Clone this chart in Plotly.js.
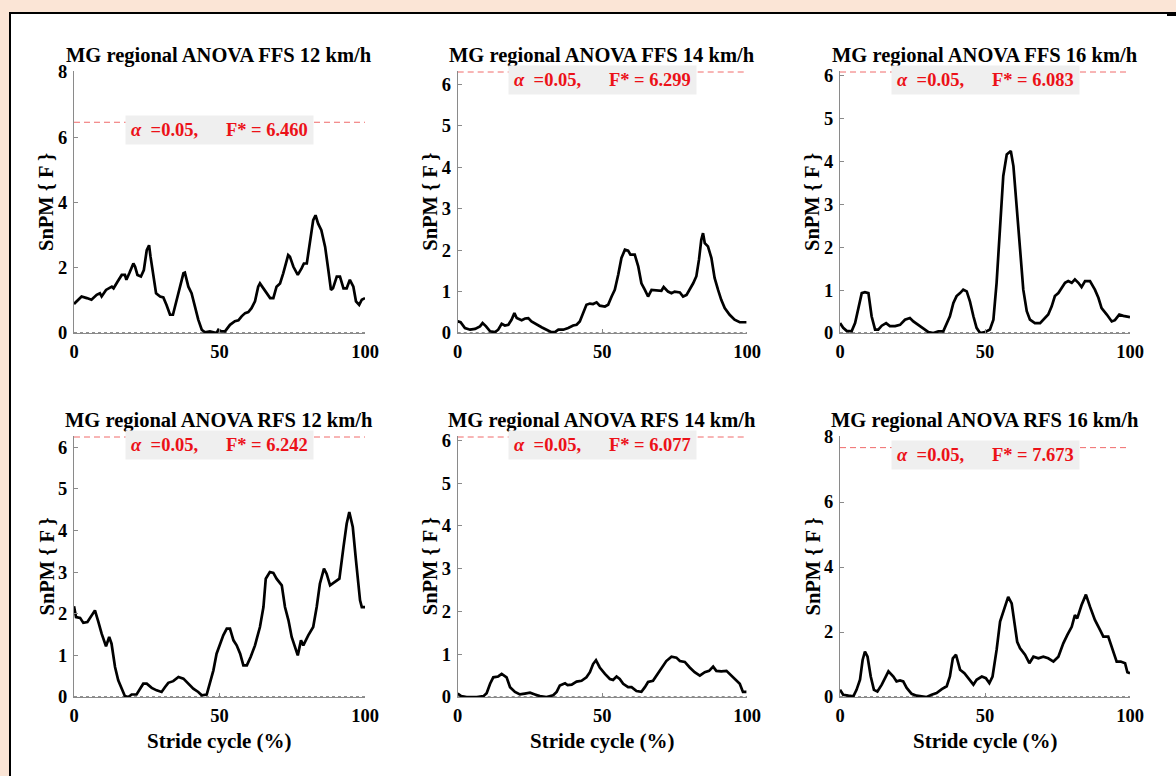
<!DOCTYPE html>
<html><head><meta charset="utf-8">
<script src="https://cdn.plot.ly/plotly-3.0.1.min.js"></script>
<style>html,body{margin:0;padding:0;background:#fbe5d6;}#chart{width:1176px;height:776px;}</style>
</head><body><div id="chart"></div>
<script>
// ---------------- data ----------------
const panelTitles = [
  'MG regional ANOVA FFS 12 km/h', 'MG regional ANOVA FFS 14 km/h', 'MG regional ANOVA FFS 16 km/h',
  'MG regional ANOVA RFS 12 km/h', 'MG regional ANOVA RFS 14 km/h', 'MG regional ANOVA RFS 16 km/h'
];
const yAxisTitle = 'SnPM { F }';
const xAxisTitle = 'Stride cycle (%)';
const alphaLevel = '0.05';
const fStar = [6.460, 6.299, 6.083, 6.242, 6.077, 7.673];
const yMax = [8, 6.299, 6.083, 6.242, 6.077, 8];
const yTickStep = [2, 1, 1, 1, 1, 2];
const strideRange = [0, 100];
const xTickVals = [0, 50, 100];

const ffs12X = [0,0.9,2.6,4.4,6,7.8,8.9,9.5,11,13,13.6,15,16.4,17.5,18,19,20.4,21,21.8,23,24,25,25.8,26.3,27.3,28.2,29.6,30.7,31.8,33,34,35.3,36.4,37.6,38.1,39.3,40.4,41.6,42.7,43.9,45,46.7,47.9,49,49.6,50.7,51.9,53.6,55.3,56.5,57.6,58.8,59.9,61,62.2,63.3,63.9,65,66.2,67.4,68.5,69.6,70.8,71.9,73.6,74.2,75.4,76.9,78.2,79,80,81,82.2,83,83.9,85,86.3,87.4,88.3,89,90.3,91.4,92.6,93.7,94.8,96,96.9,98,98.9,100];
const ffs12Y = [0.89,0.97,1.12,1.07,1.02,1.17,1.22,1.12,1.32,1.42,1.37,1.58,1.78,1.78,1.63,1.83,2.13,2.03,1.78,1.73,1.93,2.54,2.69,2.34,1.73,1.22,1.12,1.09,0.86,0.56,0.56,1.02,1.42,1.83,1.85,1.42,1.22,0.81,0.41,0.10,0.02,0.05,0.02,0,0.10,0.05,0.05,0.25,0.36,0.39,0.51,0.61,0.64,0.76,0.97,1.42,1.52,1.37,1.22,1.07,1.07,1.42,1.52,1.83,2.39,2.34,2.03,1.78,1.98,2.13,2.13,2.74,3.46,3.61,3.35,3.15,2.64,1.93,1.32,1.37,1.73,1.73,1.37,1.37,1.63,1.42,0.97,0.86,1.02,1.07];

const ffs14X = [0,1,2.5,4.3,6,7.7,8.6,9.8,11.2,12.9,14,15.2,16.3,17.5,18.6,19.6,20.4,22.1,23.3,24.4,25.5,27.3,29,30.7,32.4,33.6,34.8,36.5,38.2,39.9,41.1,42.2,43.4,44.5,45.7,46.8,48,49.1,50.9,52,53.2,54.3,55.5,56.6,57.8,58.9,59.7,61.2,62.4,63.5,64.7,65.8,67,68.7,70.4,71.2,72.7,73.9,75,76.8,77.9,79.1,80.2,81.4,82.5,83.4,84.2,84.8,85.4,86.5,87.7,88.8,90,91.1,92.3,94,95.7,97.5,99.8];
const ffs14Y = [0.28,0.26,0.12,0.08,0.10,0.16,0.24,0.16,0.04,0.02,0.08,0.22,0.18,0.20,0.32,0.48,0.36,0.31,0.35,0.36,0.28,0.20,0.14,0.08,0.02,0.02,0.08,0.08,0.12,0.18,0.20,0.28,0.48,0.68,0.71,0.70,0.74,0.66,0.64,0.68,0.88,1.04,1.41,1.81,2.01,1.99,1.89,1.89,1.61,1.20,1.04,0.88,1.04,1.03,1.02,1.11,1.00,0.96,1.00,0.98,0.88,0.92,1.04,1.20,1.37,1.77,2.25,2.41,2.17,2.09,1.81,1.33,1.04,0.80,0.60,0.44,0.32,0.26,0.26];

const ffs16X = [0,1.1,2.3,4,5.2,6.3,7.5,8.6,9.8,10.9,12.1,13.2,14.4,15.9,17.2,19,20.7,22.4,24.1,25.3,27,28.7,30.5,32.2,33.9,35.6,36.8,37.9,39.1,40.2,41.4,42.5,43.7,44.8,46,47.1,48.3,50,51.7,52.9,54,55.2,56.3,57.5,58.9,59.8,61,62.1,63.2,64.4,65.5,67.2,69,70.1,71.8,73,74.1,75.3,76.4,77.6,78.7,79.9,81,82.2,83.3,84.5,86.2,87.9,89.1,90.2,92,93.7,94.8,96.3,97.7,98.9,100];
const ffs16Y = [0.23,0.12,0.05,0.04,0.23,0.54,0.93,0.95,0.93,0.39,0.08,0.08,0.17,0.23,0.16,0.16,0.19,0.31,0.35,0.27,0.19,0.09,0.02,0,0.04,0.04,0.23,0.39,0.70,0.86,0.93,1.01,0.97,0.74,0.39,0.12,0,0.02,0.08,0.31,1.17,2.49,3.66,4.16,4.24,3.89,2.96,1.95,1.01,0.51,0.31,0.23,0.23,0.31,0.43,0.62,0.86,0.93,1.05,1.17,1.21,1.17,1.25,1.17,1.07,1.21,1.21,1.01,0.82,0.58,0.43,0.27,0.30,0.43,0.40,0.39,0.37];

const rfs12X = [0,0.7,2.1,3.2,4.6,6.1,7.2,8.4,9.5,11,12.1,12.9,14.1,15.2,16.4,17.5,18.7,19.8,21.5,22.7,23.8,25,26.7,28.4,30.1,31.3,32.4,34.1,35.9,37.6,39.3,41,42.7,43.9,45.6,46.7,47.9,49,50.2,51.3,52.5,53.6,54.8,55.9,57.1,58.2,59.4,60.7,62.2,63.9,65.1,65.9,67.3,68.5,69.6,71.4,72.5,73.7,74.8,76,76.9,78,78.8,80.5,82.2,83.4,84.5,85.9,86.8,88,89.7,91.2,92.6,93.7,94.6,95.8,96.9,98.3,98.9,100];
const rfs12Y = [2.18,1.92,1.90,1.78,1.80,1.98,2.08,1.80,1.52,1.22,1.44,1.28,0.72,0.40,0.20,0.02,0,0.06,0.06,0.20,0.32,0.32,0.22,0.16,0.12,0.24,0.34,0.38,0.48,0.44,0.32,0.20,0.12,0.04,0.06,0.32,0.64,1.04,1.28,1.48,1.64,1.64,1.36,1.24,1.04,0.76,0.76,0.96,1.24,1.68,2.16,2.84,3.00,2.98,2.84,2.68,2.16,1.84,1.44,1.16,1.00,1.36,1.24,1.48,1.68,2.16,2.72,3.08,2.96,2.68,2.76,2.84,3.60,4.16,4.44,4.08,3.28,2.32,2.16,2.16];

const rfs14X = [0,1.2,3.1,6.6,8.9,10,11.2,12.3,14,15.2,16.9,18.1,19.8,21.5,23.2,25,26.7,28.4,30.7,33,34.2,35.3,37.1,38,39.4,41.1,42.8,44.5,45.7,46.8,47.8,49.1,50.9,52.6,53.7,54.9,56,57.2,58.9,60.1,61.8,63.5,64.7,65.8,67.5,68.7,70.4,72.1,73.9,75.6,76.8,78.5,80.2,81.9,83.7,85.4,86.9,88.3,89.4,91.1,92.9,94.6,96.3,97.5,98.6,99.8];
const rfs14Y = [0.08,0.02,0,0,0.02,0.09,0.31,0.46,0.48,0.54,0.46,0.23,0.12,0.06,0.08,0.10,0.06,0.02,0,0.04,0.12,0.27,0.32,0.28,0.29,0.36,0.38,0.46,0.58,0.77,0.86,0.69,0.54,0.42,0.40,0.48,0.42,0.31,0.23,0.23,0.14,0.12,0.23,0.35,0.38,0.50,0.69,0.84,0.94,0.92,0.84,0.82,0.69,0.58,0.50,0.58,0.61,0.71,0.61,0.60,0.61,0.50,0.40,0.31,0.12,0.12];

const rfs16X = [0,1.1,2.9,4.6,5.7,6.9,7.8,8.6,9.5,10.6,11.7,12.9,14.4,15.5,16.7,18.4,19.5,20.7,21.8,23,24.7,26.4,28.2,29.9,31.6,33.3,35.1,36.8,37.9,38.9,40,41.4,42.9,44.3,46,47.1,48.9,50.3,51.5,52.6,54,55.2,56.9,58,59.2,60.3,61.1,62.1,63.8,65.3,66.7,68.4,70.1,71.8,73.6,75.3,77,78.4,79.9,81,81.8,83.3,84.8,86.2,87.9,89.7,90.8,92.5,94.3,95.4,96.8,98.3,99.1,100];
const rfs16Y = [0.22,0.07,0.04,0.02,0.22,0.53,1.14,1.40,1.24,0.63,0.22,0.17,0.38,0.58,0.79,0.63,0.48,0.51,0.48,0.28,0.10,0.04,0.02,0,0.07,0.12,0.24,0.33,0.63,1.19,1.30,0.84,0.73,0.58,0.38,0.53,0.63,0.58,0.43,0.63,1.45,2.32,2.78,3.08,2.88,2.27,1.70,1.50,1.30,1.04,1.24,1.19,1.24,1.19,1.09,1.24,1.65,1.91,2.16,2.52,2.42,2.83,3.15,2.78,2.37,2.06,1.86,1.86,1.35,1.09,1.09,1.04,0.76,0.73];

const seriesX = [ffs12X, ffs14X, ffs16X, rfs12X, rfs14X, rfs16X];
const seriesY = [ffs12Y, ffs14Y, ffs16Y, rfs12Y, rfs14Y, rfs16Y];

// ---------------- layout ----------------
const W = 1176, H = 776;
const colPx = [[74, 365], [457.7, 747], [840, 1130]];
const rowPx = [[71, 333], [436, 697]];
const FONT = 'Liberation Serif, Times New Roman, serif';
const RED = '#ec1118';
const AXIS_GRAY = '#8a8a8a';

const traces = [];
const annotations = [];
const layout = {
  width: W, height: H,
  margin: {l: 0, r: 0, t: 0, b: 0},
  paper_bgcolor: '#fbe5d6',
  plot_bgcolor: 'rgba(0,0,0,0)',
  showlegend: false,
  shapes: [
    {type: 'rect', xref: 'paper', yref: 'paper', x0: 10 / W, x1: 1.05, y0: -0.05, y1: 1 - 13 / H,
     line: {color: '#000', width: 2}, fillcolor: '#ffffff', layer: 'below'},
    {type: 'line', xref: 'paper', yref: 'paper', x0: 1167 / W, x1: 1, y0: 1 - 14.5 / H, y1: 1 - 14.5 / H,
     line: {color: '#000', width: 3}, layer: 'below'}
  ],
  annotations: annotations
};

for (let i = 0; i < 6; i++) {
  const r = Math.floor(i / 3), c = i % 3;
  const n = i + 1;
  const xa = 'xaxis' + (n === 1 ? '' : n), ya = 'yaxis' + (n === 1 ? '' : n);
  const xr = 'x' + (n === 1 ? '' : n), yr = 'y' + (n === 1 ? '' : n);
  const pad = yMax[i] / 260;
  layout[xa] = {
    domain: [colPx[c][0] / W, colPx[c][1] / W], anchor: yr,
    range: strideRange, tickvals: xTickVals, ticks: 'inside', ticklen: 4, tickcolor: AXIS_GRAY,
    showline: true, linecolor: AXIS_GRAY, linewidth: 1, showgrid: false, zeroline: false,
    tickfont: {family: FONT, size: 18.5, color: '#000', weight: 'bold'}, ticklabelstandoff: 2
  };
  layout[ya] = {
    domain: [1 - rowPx[r][1] / H, 1 - rowPx[r][0] / H], anchor: xr,
    range: [0, yMax[i] + pad], tick0: 0, dtick: yTickStep[i], ticks: 'inside', ticklen: 4, tickcolor: AXIS_GRAY,
    showline: true, linecolor: AXIS_GRAY, linewidth: 1, showgrid: false, zeroline: false,
    tickfont: {family: FONT, size: 18.5, color: '#000', weight: 'bold'}, ticklabelstandoff: 2
  };
  // zero line (dotted)
  traces.push({x: strideRange, y: [0, 0], xaxis: xr, yaxis: yr, mode: 'lines',
    line: {color: '#222', width: 1, dash: 'dot'}, hoverinfo: 'skip'});
  // critical threshold
  traces.push({x: strideRange, y: [fStar[i], fStar[i]], xaxis: xr, yaxis: yr, mode: 'lines',
    line: {color: '#f06a6a', width: 1, dash: '6px,4px'}, hoverinfo: 'skip'});
  // SnPM{F} curve
  traces.push({x: seriesX[i], y: seriesY[i], xaxis: xr, yaxis: yr, mode: 'lines',
    line: {color: '#000', width: 2.7}, name: panelTitles[i]});

  // panel title
  annotations.push({text: panelTitles[i], xref: xr + ' domain', yref: yr + ' domain', x: 0.5, y: 1,
    yanchor: 'middle', xanchor: 'center', yshift: 16, showarrow: false,
    font: {family: FONT, size: 20.5, color: '#000', weight: 'bold'}});
  // y title
  annotations.push({text: yAxisTitle, xref: xr + ' domain', yref: yr + ' domain', x: 0, y: 0.5,
    xanchor: 'center', yanchor: 'middle', xshift: -28, textangle: -90, showarrow: false,
    font: {family: FONT, size: 20.5, color: '#000', weight: 'bold'}});
  // x title (bottom row only)
  if (r === 1) {
    annotations.push({text: xAxisTitle, xref: xr + ' domain', yref: yr + ' domain', x: 0.5, y: 0,
      xanchor: 'center', yanchor: 'middle', yshift: -44, showarrow: false,
      font: {family: FONT, size: 21, color: '#000', weight: 'bold'}});
  }
  // threshold label
  const sp = '\u00a0';
  annotations.push({
    text: '<i>α</i>' + sp + sp + '=' + alphaLevel + ',' + sp.repeat(6) + 'F*' + sp + '=' + sp + fStar[i].toFixed(3),
    xref: xr, yref: yr, x: 50, y: fStar[i], xanchor: 'center', yanchor: 'middle', yshift: -7.5,
    width: 185, height: 26, bgcolor: '#efefef', showarrow: false, align: 'center',
    font: {family: FONT, size: 18.5, color: RED, weight: 'bold'}
  });
}

Plotly.newPlot('chart', traces, layout, {staticPlot: true});
</script></body></html>
